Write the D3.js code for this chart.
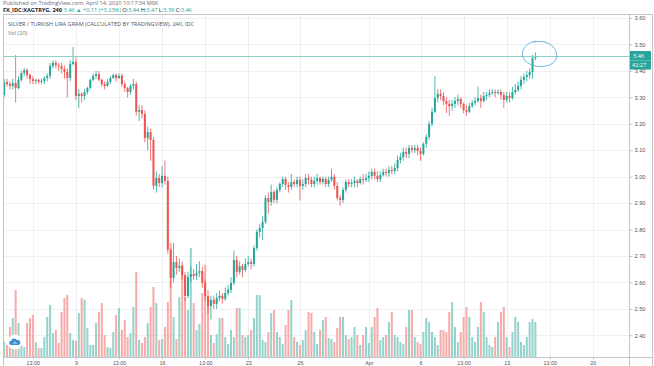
<!DOCTYPE html>
<html>
<head>
<meta charset="utf-8">
<script src="https://cdn.jsdelivr.net/npm/d3@7"></script>
<style>
  body { margin: 0; background: #fff; }
  svg { display: block; font-family: 'Open Sans', sans-serif; }
</style>
</head>
<body>
<div id="chart"></div>
<script>
// XAG/TRY gram, 240 min candles
const opens = [
  3.309, 3.358, 3.350, 3.343, 3.354, 3.335, 3.366, 3.392, 3.403, 3.384,
  3.369, 3.362, 3.366, 3.358, 3.362, 3.373, 3.381, 3.418, 3.430, 3.422,
  3.418, 3.407, 3.396, 3.373, 3.426, 3.434, 3.305, 3.313, 3.305, 3.320,
  3.335, 3.366, 3.381, 3.388, 3.366, 3.350, 3.343, 3.358, 3.373, 3.384,
  3.373, 3.381, 3.350, 3.335, 3.320, 3.343, 3.350, 3.245, 3.252, 3.237,
  3.146, 3.169, 3.139, 2.965, 2.995, 2.976, 3.003, 2.984, 2.723, 2.617,
  2.677, 2.655, 2.662, 2.628, 2.549, 2.621, 2.632, 2.625, 2.636, 2.643,
  2.598, 2.549, 2.511, 2.534, 2.519, 2.541, 2.549, 2.538, 2.560, 2.572,
  2.598, 2.685, 2.640, 2.662, 2.647, 2.670, 2.677, 2.670, 2.730, 2.791,
  2.806, 2.829, 2.919, 2.904, 2.942, 2.912, 2.950, 2.972, 2.991, 2.969,
  2.961, 2.980, 2.972, 2.988, 2.965, 2.972, 2.995, 2.988, 2.972, 2.984,
  2.995, 2.980, 2.991, 2.972, 2.988, 2.999, 2.965, 2.919, 2.912, 2.950,
  2.980, 2.972, 2.976, 2.984, 2.976, 2.991, 2.988, 2.995, 3.003, 3.018,
  3.003, 2.991, 3.006, 3.018, 3.014, 3.025, 3.021, 3.033, 3.063, 3.074,
  3.093, 3.086, 3.108, 3.101, 3.108, 3.097, 3.086, 3.124, 3.150, 3.199,
  3.245, 3.297, 3.313, 3.305, 3.286, 3.275, 3.267, 3.275, 3.286, 3.294,
  3.275, 3.252, 3.245, 3.267, 3.279, 3.286, 3.297, 3.286, 3.305, 3.309,
  3.316, 3.320, 3.316, 3.320, 3.309, 3.290, 3.305, 3.297, 3.320, 3.328,
  3.343, 3.366, 3.377, 3.384, 3.396, 3.449
];
const closes = [
  3.358, 3.350, 3.343, 3.354, 3.335, 3.366, 3.392, 3.403, 3.384, 3.369,
  3.362, 3.366, 3.358, 3.362, 3.373, 3.381, 3.418, 3.430, 3.422, 3.418,
  3.407, 3.396, 3.373, 3.426, 3.434, 3.305, 3.313, 3.305, 3.320, 3.335,
  3.366, 3.381, 3.388, 3.366, 3.350, 3.343, 3.358, 3.373, 3.384, 3.373,
  3.381, 3.350, 3.335, 3.320, 3.343, 3.350, 3.245, 3.252, 3.237, 3.146,
  3.169, 3.139, 2.965, 2.995, 2.976, 3.003, 2.984, 2.723, 2.617, 2.677,
  2.655, 2.662, 2.628, 2.549, 2.621, 2.632, 2.625, 2.636, 2.643, 2.598,
  2.549, 2.511, 2.534, 2.519, 2.541, 2.549, 2.538, 2.560, 2.572, 2.598,
  2.685, 2.640, 2.662, 2.647, 2.670, 2.677, 2.670, 2.730, 2.791, 2.806,
  2.829, 2.919, 2.904, 2.942, 2.912, 2.950, 2.972, 2.991, 2.969, 2.961,
  2.980, 2.972, 2.988, 2.965, 2.972, 2.995, 2.988, 2.972, 2.984, 2.995,
  2.980, 2.991, 2.972, 2.988, 2.999, 2.965, 2.919, 2.912, 2.950, 2.980,
  2.972, 2.976, 2.984, 2.976, 2.991, 2.988, 2.995, 3.003, 3.018, 3.003,
  2.991, 3.006, 3.018, 3.014, 3.025, 3.021, 3.033, 3.063, 3.074, 3.093,
  3.086, 3.108, 3.101, 3.108, 3.097, 3.086, 3.124, 3.150, 3.199, 3.245,
  3.297, 3.313, 3.305, 3.286, 3.275, 3.267, 3.275, 3.286, 3.294, 3.275,
  3.252, 3.245, 3.267, 3.279, 3.286, 3.297, 3.286, 3.305, 3.309, 3.316,
  3.320, 3.316, 3.320, 3.309, 3.290, 3.305, 3.297, 3.320, 3.328, 3.343,
  3.366, 3.377, 3.384, 3.396, 3.449, 3.456
];
const highs = [
  3.37, 3.37, 3.36, 3.37, 3.46, 3.38, 3.40, 3.41, 3.41, 3.39,
  3.38, 3.37, 3.37, 3.37, 3.38, 3.39, 3.43, 3.44, 3.44, 3.43,
  3.43, 3.42, 3.41, 3.44, 3.49, 3.45, 3.33, 3.32, 3.33, 3.34,
  3.37, 3.39, 3.40, 3.40, 3.37, 3.36, 3.37, 3.38, 3.39, 3.39,
  3.39, 3.39, 3.36, 3.34, 3.35, 3.37, 3.36, 3.27, 3.27, 3.25,
  3.19, 3.18, 3.15, 3.02, 3.01, 3.04, 3.06, 3.00, 2.73, 2.75,
  2.70, 2.69, 2.68, 2.64, 2.64, 2.66, 2.65, 2.67, 2.68, 2.66,
  2.61, 2.57, 2.55, 2.55, 2.56, 2.57, 2.56, 2.58, 2.59, 2.62,
  2.72, 2.70, 2.68, 2.67, 2.69, 2.70, 2.69, 2.74, 2.80, 2.82,
  2.85, 2.93, 2.94, 2.97, 2.95, 2.96, 2.98, 3.00, 3.00, 2.98,
  3.01, 2.99, 3.00, 3.00, 2.99, 3.01, 3.01, 3.00, 3.00, 3.01,
  3.00, 3.00, 3.00, 3.00, 3.03, 3.01, 2.98, 2.93, 2.96, 2.99,
  2.99, 2.99, 3.00, 2.99, 3.00, 3.01, 3.01, 3.02, 3.03, 3.03,
  3.02, 3.02, 3.03, 3.03, 3.04, 3.04, 3.05, 3.08, 3.09, 3.11,
  3.11, 3.12, 3.12, 3.12, 3.12, 3.11, 3.13, 3.16, 3.21, 3.26,
  3.38, 3.33, 3.33, 3.32, 3.30, 3.29, 3.29, 3.30, 3.31, 3.30,
  3.28, 3.27, 3.28, 3.29, 3.30, 3.34, 3.31, 3.32, 3.32, 3.33,
  3.33, 3.33, 3.33, 3.33, 3.32, 3.32, 3.32, 3.34, 3.35, 3.36,
  3.38, 3.39, 3.40, 3.41, 3.46, 3.47
];
const lows = [
  3.30, 3.34, 3.33, 3.33, 3.28, 3.33, 3.36, 3.38, 3.37, 3.35,
  3.35, 3.35, 3.35, 3.35, 3.35, 3.36, 3.37, 3.41, 3.41, 3.40,
  3.39, 3.37, 3.30, 3.36, 3.42, 3.29, 3.26, 3.28, 3.29, 3.31,
  3.33, 3.36, 3.37, 3.36, 3.34, 3.33, 3.34, 3.35, 3.37, 3.36,
  3.37, 3.34, 3.32, 3.30, 3.31, 3.33, 3.23, 3.21, 3.22, 3.13,
  3.10, 3.06, 2.95, 2.94, 2.96, 2.96, 2.97, 2.71, 2.58, 2.60,
  2.63, 2.64, 2.61, 2.53, 2.54, 2.60, 2.61, 2.61, 2.62, 2.58,
  2.53, 2.48, 2.46, 2.50, 2.50, 2.53, 2.52, 2.53, 2.55, 2.56,
  2.59, 2.62, 2.63, 2.62, 2.64, 2.66, 2.65, 2.66, 2.72, 2.77,
  2.76, 2.82, 2.86, 2.89, 2.90, 2.90, 2.94, 2.96, 2.95, 2.94,
  2.95, 2.96, 2.96, 2.91, 2.95, 2.96, 2.97, 2.96, 2.96, 2.97,
  2.97, 2.97, 2.96, 2.96, 2.98, 2.95, 2.91, 2.89, 2.90, 2.94,
  2.96, 2.96, 2.96, 2.96, 2.97, 2.97, 2.98, 2.98, 2.99, 2.99,
  2.98, 2.98, 3.00, 3.00, 3.00, 3.01, 3.01, 3.02, 3.05, 3.06,
  3.07, 3.07, 3.09, 3.09, 3.08, 3.06, 3.08, 3.11, 3.14, 3.19,
  3.24, 3.28, 3.29, 3.27, 3.24, 3.23, 3.25, 3.26, 3.27, 3.26,
  3.24, 3.23, 3.24, 3.26, 3.27, 3.28, 3.26, 3.28, 3.29, 3.30,
  3.31, 3.30, 3.31, 3.29, 3.26, 3.28, 3.28, 3.29, 3.31, 3.32,
  3.33, 3.35, 3.36, 3.37, 3.37, 3.44
];
const volumes = [
  15, 12, 30, 39, 67, 34, 12, 10, 34, 39,
  42, 15, 9, 9, 20, 40, 52, 24, 27, 14,
  45, 59, 62, 24, 17, 16, 44, 59, 57, 29,
  12, 12, 34, 45, 54, 22, 10, 9, 25, 42,
  49, 27, 37, 20, 24, 50, 85, 17, 14, 20,
  34, 50, 70, 54, 17, 18, 30, 55, 114, 40,
  18, 60, 92, 60, 47, 109, 54, 27, 33, 64,
  92, 60, 22, 14, 23, 39, 39, 20, 13, 27,
  20, 49, 49, 22, 20, 22, 27, 39, 62, 62,
  17, 15, 25, 44, 47, 25, 20, 13, 32, 47,
  57, 20, 15, 12, 17, 27, 45, 44, 25, 13,
  27, 37, 40, 19, 18, 15, 29, 40, 40, 22,
  18, 20, 30, 22, 12, 22, 30, 14, 30, 40,
  49, 17, 20, 22, 35, 45, 22, 20, 15, 13,
  30, 47, 47, 20, 15, 13, 25, 39, 35, 25,
  20, 12, 27, 27, 25, 45, 55, 30, 15, 25,
  40, 50, 40, 20, 15, 30, 55, 45, 20, 12,
  10, 20, 35, 45, 50, 20, 10, 25, 40, 35,
  15, 12, 20, 35, 38, 35
];

// time axis: bar index of each label
const xTickIndex = [10, 25, 40, 55, 70, 85, 103, 127, 145, 160, 175, 190, 205];
const xTickLabels = ['13:00', '9', '13:00', '16', '13:00', '23', '26', 'Apr', '6', '13:00', '13', '13:00', '20'];
const yTicks = [2.40, 2.50, 2.60, 2.70, 2.80, 2.90, 3.00, 3.10, 3.20, 3.30, 3.40, 3.50, 3.60];

const WIDTH = 654, HEIGHT = 366;
const PLOT = {left: 3, right: 629, top: 14, bottom: 357};
const UP = '#26a69a', DOWN = '#ef5350';
const UP_VOL = '#93d3cb', DOWN_VOL = '#f7aaa8';
const GRID = '#eef0f4', FRAME = '#c3c5cb', TXT = '#50535e';

const bars = closes.map(function (c, i) {
  return {i: i, o: opens[i], h: highs[i], l: lows[i], c: c, v: volumes[i]};
});

const svg = d3.select('#chart').append('svg')
  .attr('width', WIDTH)
  .attr('height', HEIGHT);

const x = d3.scaleLinear().domain([-0.4, 217.6]).range([PLOT.left, PLOT.right]);
const y = d3.scaleLinear().domain([2.318, 3.615]).range([PLOT.bottom, PLOT.top]);
const vy = d3.scaleLinear().domain([0, 120]).range([PLOT.bottom, PLOT.bottom - 120]);

// grid
svg.append('g').selectAll('line')
  .data(yTicks)
  .enter().append('line')
  .attr('x1', PLOT.left).attr('x2', PLOT.right)
  .attr('y1', function (d) {return Math.round(y(d)) + 0.5;})
  .attr('y2', function (d) {return Math.round(y(d)) + 0.5;})
  .attr('stroke', GRID);
svg.append('g').selectAll('line')
  .data(xTickIndex)
  .enter().append('line')
  .attr('y1', PLOT.top).attr('y2', PLOT.bottom)
  .attr('x1', function (d) {return Math.round(x(d)) + 0.5;})
  .attr('x2', function (d) {return Math.round(x(d)) + 0.5;})
  .attr('stroke', GRID);

// volume
svg.append('g').selectAll('rect')
  .data(bars)
  .enter().append('rect')
  .attr('x', function (d) {return x(d.i) - 1;})
  .attr('width', 2)
  .attr('y', function (d) {return vy(d.v);})
  .attr('height', function (d) {return PLOT.bottom - vy(d.v);})
  .attr('fill', function (d) {return d.c >= d.o ? UP_VOL : DOWN_VOL;});

// candles
const candle = svg.append('g').selectAll('g')
  .data(bars)
  .enter().append('g');
candle.append('line')
  .attr('x1', function (d) {return x(d.i);})
  .attr('x2', function (d) {return x(d.i);})
  .attr('y1', function (d) {return y(d.h);})
  .attr('y2', function (d) {return y(d.l);})
  .attr('stroke', function (d) {return d.c >= d.o ? UP : DOWN;})
  .attr('stroke-width', 0.8);
candle.append('rect')
  .attr('x', function (d) {return x(d.i) - 1;})
  .attr('width', 2)
  .attr('y', function (d) {return y(Math.max(d.o, d.c));})
  .attr('height', function (d) {return Math.max(1, Math.abs(y(d.o) - y(d.c)));})
  .attr('fill', function (d) {return d.c >= d.o ? UP : DOWN;});

// last price line
const last = closes[closes.length - 1];
svg.append('line')
  .attr('x1', PLOT.left).attr('x2', PLOT.right)
  .attr('y1', Math.round(y(last)) + 0.5).attr('y2', Math.round(y(last)) + 0.5)
  .attr('stroke', '#8fd1c9');

// frame
svg.append('path')
  .attr('d', 'M3.5,366V14.5H652.5V366 M629.5,14.5V366 M3.5,357.5H652.5')
  .attr('fill', 'none')
  .attr('stroke', FRAME);

// price axis
const yAxis = svg.append('g')
  .attr('transform', 'translate(' + (PLOT.right + 0.5) + ',0)')
  .call(d3.axisRight(y).tickValues(yTicks).tickSize(3).tickPadding(2).tickFormat(d3.format('.2f')));
yAxis.select('.domain').remove();
yAxis.selectAll('line').attr('stroke', FRAME);
yAxis.selectAll('text')
  .attr('fill', TXT)
  .style('font-size', '5.6px');

// time axis
const xAxis = svg.append('g')
  .attr('transform', 'translate(0,' + (PLOT.bottom + 0.5) + ')')
  .call(d3.axisBottom(x).tickValues(xTickIndex).tickSize(2).tickPadding(2)
    .tickFormat(function (d, i) {return xTickLabels[i];}));
xAxis.select('.domain').remove();
xAxis.selectAll('line').attr('stroke', FRAME);
xAxis.selectAll('text')
  .attr('fill', TXT)
  .style('font-size', '5.4px');

// last price + countdown badges
const ly = y(last);
svg.append('rect').attr('x', 630).attr('y', ly - 5).attr('width', 21).attr('height', 9.5).attr('fill', UP);
svg.append('text').attr('x', 633).attr('y', ly + 2).attr('fill', '#fff').style('font-size', '5.6px').text(d3.format('.2f')(last));
svg.append('rect').attr('x', 630).attr('y', ly + 4.5).attr('width', 21).attr('height', 9).attr('fill', UP);
svg.append('text').attr('x', 632).attr('y', ly + 11.2).attr('fill', '#fff').style('font-size', '5.6px').text('42:27');

// header
svg.append('text').attr('x', 3).attr('y', 5).attr('fill', '#6a6d78').style('font-size', '5.6px')
  .text('Published on TradingView.com, April 14, 2020 10:17:34 MSK');
const head = svg.append('text').attr('x', 3).attr('y', 11.8).style('font-size', '5.6px');
head.append('tspan').attr('fill', '#222').style('font-weight', 'bold').text('FX_IDC:XAGTRYG, 240 ');
head.append('tspan').attr('fill', UP).text('3.46 \u25B2 +0.11 (+3.23%) ');
[['O:', '3.44'], ['H:', '3.47'], ['L:', '3.39'], ['C:', '3.46']].forEach(function (p) {
  head.append('tspan').attr('fill', '#222').text(p[0]);
  head.append('tspan').attr('fill', UP).text(p[1] + ' ');
});

// legend
svg.append('text').attr('x', 8).attr('y', 26).attr('fill', '#50535e').style('font-size', '5.6px')
  .text('SILVER / TURKISH LIRA GRAM (CALCULATED BY TRADINGVIEW), 240, IDC');
svg.append('text').attr('x', 8).attr('y', 35).attr('fill', '#787b86').style('font-size', '5.6px')
  .text('Vol (20)');

// hand drawn circle round the last candle
const cx = x(closes.length - 1) + 4, cy = y(last) - 1;
svg.append('path')
  .attr('d', 'M' + (cx - 6) + ',' + (cy - 13) +
    ' C' + (cx + 10) + ',' + (cy - 16) + ' ' + (cx + 19) + ',' + (cy - 6) + ' ' + (cx + 17) + ',' + (cy + 3) +
    ' C' + (cx + 15) + ',' + (cy + 12) + ' ' + (cx - 4) + ',' + (cy + 15) + ' ' + (cx - 14) + ',' + (cy + 6) +
    ' C' + (cx - 20) + ',' + (cy) + ' ' + (cx - 17) + ',' + (cy - 12) + ' ' + (cx - 3) + ',' + (cy - 14))
  .attr('fill', 'none')
  .attr('stroke', '#5aaed8')
  .attr('stroke-width', 0.9);

// small cloud badge bottom-left
svg.append('circle').attr('cx', 15).attr('cy', 342).attr('r', 7.5).attr('fill', '#fff');
svg.append('path')
  .attr('d', 'M10.5,345 a2.2,2.2 0 0 1 0.6,-4.2 a3,3 0 0 1 5.6,-0.8 a2.4,2.4 0 0 1 1.8,5 Z')
  .attr('fill', '#3a8fd6');
svg.append('path')
  .attr('d', 'M13.5,344 l1.5,-2 l1.5,2')
  .attr('fill', 'none').attr('stroke', '#fff').attr('stroke-width', 0.7);
</script>
</body>
</html>
